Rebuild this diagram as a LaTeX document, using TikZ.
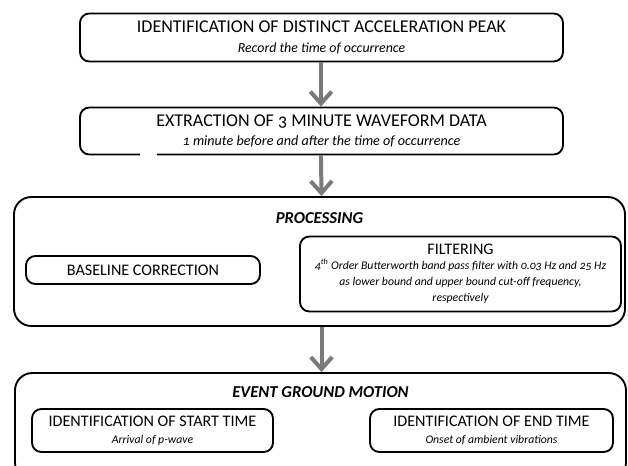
\documentclass[tikz,border=0pt]{standalone}
\usepackage{fontspec}
\setmainfont{Carlito}[Numbers=OldStyle]
\usetikzlibrary{arrows.meta}
\definecolor{arrowgray}{HTML}{7A7A7A}
\begin{document}
\begin{tikzpicture}[x=0.75pt,y=-0.75pt,
  box/.style={draw=black, line width=1.4pt, rounded corners=7pt, align=center, inner sep=0pt, fill=white},
  outerbox/.style={draw=black, line width=1.4pt, rounded corners=13pt, inner sep=0pt},
  flow/.style={draw=arrowgray, line width=3pt, -{Straight Barb[length=9pt,width=16pt]}},
  bigfont/.style={font=\fontsize{13.5}{16}\selectfont},
  capfont/.style={font=\fontsize{12.1}{15}\selectfont},
  headfont/.style={font=\fontsize{12.5}{14}\selectfont\bfseries\itshape}
]
\path[use as bounding box, clip] (0,0) rectangle (628,465);
\fill[white] (0,0) rectangle (628,465);

% top boxes
\node[box, bigfont, minimum width=362.25pt, minimum height=36pt] (b1) at (321.5,37.5)
  {IDENTIFICATION OF DISTINCT ACCELERATION PEAK\\[-1.5pt]{\fontsize{10.4}{12}\selectfont\itshape Record the time of occurrence}};
\node[box, bigfont, minimum width=362.25pt, minimum height=35.25pt] (b2) at (321.5,131)
  {EXTRACTION OF 3 MINUTE WAVEFORM DATA\\[-1.5pt]{\fontsize{10.6}{12}\selectfont\itshape 1 minute before and after the time of occurrence}};
\fill[white] (140,152) rectangle (157,158);

% processing
\node[outerbox, minimum width=458.25pt, minimum height=96.75pt] (proc) at (319.5,261.5) {};
\node[headfont] (proct) at (319.5,218) {PROCESSING};
\node[box, capfont, minimum width=175.5pt, minimum height=21pt] (base) at (143,270) {BASELINE CORRECTION};
\node[box, minimum width=240.75pt, minimum height=56.25pt] (filt) at (460.5,274)
  {{\fontsize{12.1}{13}\selectfont FILTERING}\\[-0.5pt]
   {\fontsize{8.8}{10}\selectfont\itshape 4\textsuperscript{th} Order Butterworth band pass filter with 0.03 Hz and 25 Hz}\\
   {\fontsize{8.8}{10}\selectfont\itshape as lower bound and upper bound cut-off frequency,}\\
   {\fontsize{8.8}{10}\selectfont\itshape respectively}};

% event ground motion
\node[outerbox, minimum width=458.25pt, minimum height=80.25pt] (event) at (320.5,426.5) {};
\node[headfont] (eventt) at (320.5,392) {EVENT GROUND MOTION};
\node[box, capfont, minimum width=180.75pt, minimum height=32.25pt] (start) at (152.5,430.5)
  {IDENTIFICATION OF START TIME\\[-2pt]{\fontsize{8.8}{10}\selectfont\itshape Arrival of p-wave}};
\node[box, capfont, minimum width=182.25pt, minimum height=32.25pt] (end) at (491.5,430.5)
  {IDENTIFICATION OF END TIME\\[-2pt]{\fontsize{8.8}{10}\selectfont\itshape Onset of ambient vibrations}};

% arrows
\draw[flow] ([xshift=-0.4pt]b1.south) -- ([xshift=-0.4pt]b2.north);
\draw[flow] ([xshift=-0.4pt]b2.south) -- (b2.south |- proc.north);
\draw[flow] (b2.south |- proc.south) -- (b2.south |- event.north);
\end{tikzpicture}
\end{document}
